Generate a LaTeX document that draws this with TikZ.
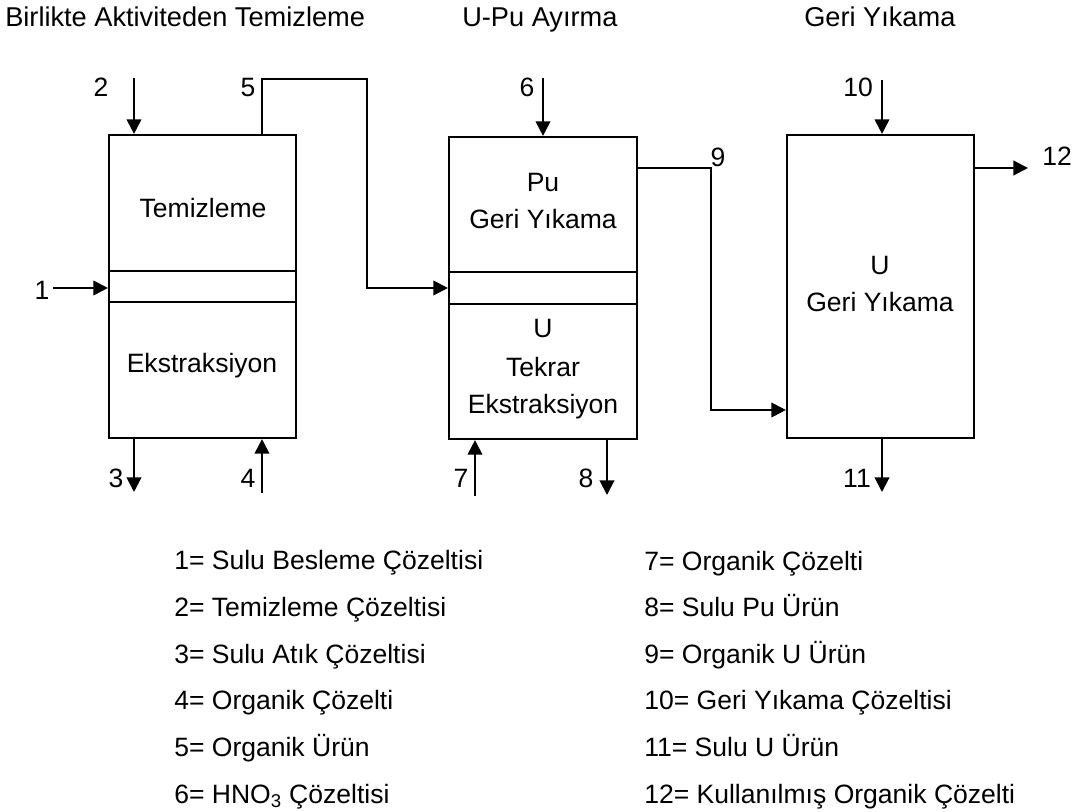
\documentclass[tikz,border=0pt]{standalone}
\usepackage{fontspec}
\setmainfont{Liberation Sans}
\usetikzlibrary{arrows.meta}
\begin{document}
\begin{tikzpicture}[x=0.75pt,y=-0.75pt,
  every node/.style={font=\fontsize{19.9}{23}\selectfont, inner sep=0pt},
  unit/.style={draw, line width=1.6pt, inner sep=0pt},
  conn/.style={line width=1.5pt},
  arr/.style={conn, -{Triangle[length=11pt,width=11pt]}},
  lbl/.style={anchor=base},
  leg/.style={anchor=base west},
  ttl/.style={anchor=base west, font=\fontsize{20.4}{24}\selectfont}]
\useasboundingbox (0,0) rectangle (1081,812);
\fill[white] (0,0) rectangle (1081,812);

% titles
\node[ttl] (t1) at (5,27) {Birlikte Aktiviteden Temizleme};
\node[ttl] (t2) at (462,27) {U-Pu Ayırma};
\node[ttl] (t3) at (804,27) {Geri Yıkama};

% units
\node[unit, minimum width=140.25pt, minimum height=227.25pt] (box1) at (202.5,286.5) {};
\node[unit, minimum width=141pt, minimum height=226.5pt] (box2) at (543,288) {};
\node[unit, minimum width=140.25pt, minimum height=227.25pt] (box3) at (880.5,286.5) {};

% dividers
\coordinate (d1a) at (0,271); \coordinate (d1b) at (0,302);
\coordinate (d2a) at (0,272); \coordinate (d2b) at (0,304);
\draw[conn] (d1a -| box1.west) -- (d1a -| box1.east);
\draw[conn] (d1b -| box1.west) -- (d1b -| box1.east);
\draw[conn] (d2a -| box2.west) -- (d2a -| box2.east);
\draw[conn] (d2b -| box2.west) -- (d2b -| box2.east);

% texts in units
\node[lbl] (tz) at (203,218) {Temizleme};
\node[lbl] (ek) at (202,373) {Ekstraksiyon};
\node[lbl] (pu) at (543,192) {Pu};
\node[lbl] (gy1) at (543,229) {Geri Yıkama};
\node[lbl] (u1) at (543,338) {U};
\node[lbl] (tk) at (543,377) {Tekrar};
\node[lbl] (ek2) at (543,414) {Ekstraksiyon};
\node[lbl] (u2) at (880,275) {U};
\node[lbl] (gy2) at (880,312) {Geri Yıkama};

% free ends
\coordinate (in1) at (53,288);
\coordinate (in2) at (134,78);
\coordinate (out3) at (134,492);
\coordinate (in4) at (262,493);
\coordinate (p5) at (262,79);
\coordinate (c5a) at (367,79);
\coordinate (c5b) at (367,288);
\coordinate (in6) at (543,78);
\coordinate (in7) at (475,496);
\coordinate (out8) at (607,495);
\coordinate (c9a) at (711,168);
\coordinate (c9b) at (711,410);
\coordinate (in10) at (882,80);
\coordinate (out11) at (882,492);
\coordinate (out12) at (1028,168);

% connectors
\draw[arr] (in1) -- (in1 -| box1.west);
\draw[arr] (in2) -- (in2 |- box1.north);
\draw[arr] (out3 |- box1.south) -- (out3);
\draw[arr] (in4) -- (in4 |- box1.south);
\draw[arr] (p5 |- box1.north) -- (p5) -- (c5a) -- (c5b) -- (c5b -| box2.west);
\draw[arr] (in6) -- (in6 |- box2.north);
\draw[arr] (in7) -- (in7 |- box2.south);
\draw[arr] (out8 |- box2.south) -- (out8);
\draw[arr] (c9a -| box2.east) -- (c9a) -- (c9b) -- (c9b -| box3.west);
\draw[arr] (in10) -- (in10 |- box3.north);
\draw[arr] (out11 |- box3.south) -- (out11);
\draw[arr] (out12 -| box3.east) -- (out12);

% stream numbers
\node[lbl] (n1) at (42,300) {1};
\node[lbl] (n2) at (101,97) {2};
\node[lbl] (n3) at (116,488) {3};
\node[lbl] (n4) at (248,488) {4};
\node[lbl] (n5) at (248,97) {5};
\node[lbl] (n6) at (527,97) {6};
\node[lbl] (n7) at (461,488) {7};
\node[lbl] (n8) at (586,488) {8};
\node[lbl] (n9) at (718,167) {9};
\node[lbl] (n10) at (858,97) {10};
\node[lbl] (n11) at (857,488) {11};
\node[lbl] (n12) at (1057,166) {12};

% legend
\node[leg] (l1) at (174,569) {1= Sulu Besleme Çözeltisi};
\node[leg] (l2) at (174,616) {2= Temizleme Çözeltisi};
\node[leg] (l3) at (174,663) {3= Sulu Atık Çözeltisi};
\node[leg] (l4) at (174,709) {4= Organik Çözelti};
\node[leg] (l5) at (174,756) {5= Organik Ürün};
\node[leg] (l6) at (174,803) {6= HNO\textsubscript{3} Çözeltisi};
\node[leg] (l7) at (644,570) {7= Organik Çözelti};
\node[leg] (l8) at (644,616) {8= Sulu Pu Ürün};
\node[leg] (l9) at (644,663) {9= Organik U Ürün};
\node[leg] (l10) at (644,709) {10= Geri Yıkama Çözeltisi};
\node[leg] (l11) at (644,756) {11= Sulu U Ürün};
\node[leg] (l12) at (644,803) {12= Kullanılmış Organik Çözelti};
\end{tikzpicture}
\end{document}
